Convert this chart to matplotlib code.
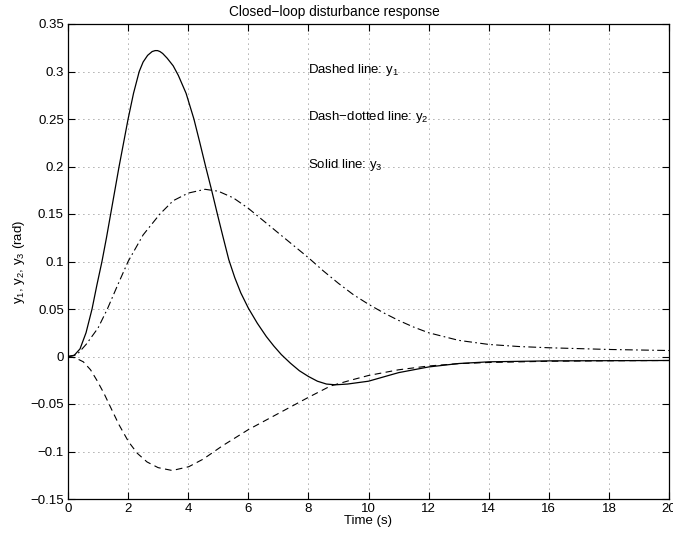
import matplotlib
matplotlib.use("Agg")
import matplotlib.pyplot as plt

plt.rcParams["font.family"] = ["Liberation Sans", "DejaVu Sans"]
plt.rcParams["mathtext.default"] = "regular"

# values
t_y1 = [0, 0.25, 0.51, 0.75, 0.96, 1.2, 1.41, 1.7, 2.02, 2.31, 2.63, 3.0, 3.47,
        4.02, 4.5, 5.14, 6.0, 7.0, 8.0, 8.74, 9.4, 10.0, 11.0, 12.0, 13.0,
        14.0, 16.0, 18.0, 20.0]
y1 = [0, -0.0015, -0.0056, -0.014, -0.025, -0.039, -0.053, -0.072, -0.090,
      -0.102, -0.111, -0.117, -0.120, -0.116, -0.108, -0.094, -0.077, -0.060,
      -0.043, -0.031, -0.025, -0.020, -0.014, -0.010, -0.0075, -0.0063,
      -0.005, -0.0045, -0.0042]

t_y2 = [0, 0.3, 0.61, 1.0, 1.31, 1.65, 2.0, 2.5, 3.06, 3.5, 4.0, 4.56, 5.0, 5.5,
        6.0, 6.5, 7.0, 7.5, 8.0, 8.5, 9.0, 9.5, 10.0, 10.5, 11.0, 11.5, 12.0,
        13.0, 14.0, 15.0, 16.0, 18.0, 20.0]
y2 = [0, 0.002, 0.013, 0.030, 0.050, 0.075, 0.100, 0.128, 0.150, 0.164, 0.172,
      0.176, 0.174, 0.167, 0.156, 0.143, 0.130, 0.117, 0.104, 0.090, 0.077,
      0.065, 0.055, 0.046, 0.038, 0.031, 0.025, 0.017, 0.0127, 0.0105,
      0.0092, 0.0074, 0.0063]

t_y3 = [0, 0.2, 0.4, 0.6, 0.8, 0.96, 1.13, 1.28, 1.42, 1.56, 1.7, 1.85, 2.0,
        2.18, 2.37, 2.5, 2.65, 2.8, 2.9, 2.98, 3.06, 3.15, 3.3, 3.5, 3.67,
        3.93, 4.19, 4.38, 4.58, 4.78, 4.97, 5.15, 5.35, 5.55, 5.75, 6.0, 6.3,
        6.6, 6.85, 7.1, 7.4, 7.7, 8.0, 8.3, 8.6, 8.9, 9.3, 10.0, 11.0, 12.0,
        13.0, 14.0, 16.0, 20.0]
y3 = [0, 0.001, 0.008, 0.025, 0.050, 0.075, 0.100, 0.125, 0.150, 0.175, 0.200,
      0.225, 0.250, 0.277, 0.300, 0.310, 0.317, 0.321, 0.322, 0.322, 0.321,
      0.319, 0.314, 0.306, 0.296, 0.277, 0.250, 0.226, 0.200, 0.175, 0.150,
      0.127, 0.102, 0.083, 0.067, 0.051, 0.035, 0.021, 0.011, 0.002, -0.007,
      -0.015, -0.021, -0.026, -0.029, -0.0298, -0.029, -0.026, -0.017,
      -0.011, -0.0074, -0.0056, -0.0046, -0.0042]

xticks = list(range(0, 21, 2))
yticks = [-0.15, -0.1, -0.05, 0, 0.05, 0.1, 0.15, 0.2, 0.25, 0.3, 0.35]
ytick_labels = ["\u22120.15", "\u22120.1", "\u22120.05", "0", "0.05", "0.1",
                "0.15", "0.2", "0.25", "0.3", "0.35"]

notes = ["Dashed line: $y_1$", "Dash\u2212dotted line: $y_2$", "Solid line: $y_3$"]
note_y = [0.302, 0.252, 0.202]

fig = plt.figure(figsize=(6.73, 5.36), dpi=100)
ax = fig.add_axes([68 / 673, 1 - 499 / 536, 601 / 673, 475 / 536])

ax.plot(t_y1, y1, color="black", lw=0.8, linestyle=(0, (6, 4)))
ax.plot(t_y2, y2, color="black", lw=0.8, linestyle=(0, (7, 3, 1.5, 3)))
ax.plot(t_y3, y3, color="black", lw=0.9, linestyle="-")

for txt, yy in zip(notes, note_y):
    ax.text(8.0, yy, txt, fontsize=9.5, va="center", ha="left")

ax.set_xlim(0, 20)
ax.set_ylim(-0.15, 0.35)
ax.set_xticks(xticks)
ax.set_yticks(yticks)
ax.set_yticklabels(ytick_labels)
ax.tick_params(direction="in", length=5, width=0.8, labelsize=9.5,
               top=True, right=True, pad=3)
ax.grid(True, color="0.35", linestyle=(0, (1, 5)), linewidth=0.6)
for s in ax.spines.values():
    s.set_linewidth(0.9)

ax.set_xlabel("Time (s)", fontsize=9.5, labelpad=0)
ax.set_ylabel("$y_1$, $y_2$, $y_3$ (rad)", fontsize=9.5, labelpad=2)
ax.set_title("Closed\u2212loop disturbance response", fontsize=9.8, pad=6,
             x=(334 - 68) / 601)

fig.savefig("out.png", dpi=100)
